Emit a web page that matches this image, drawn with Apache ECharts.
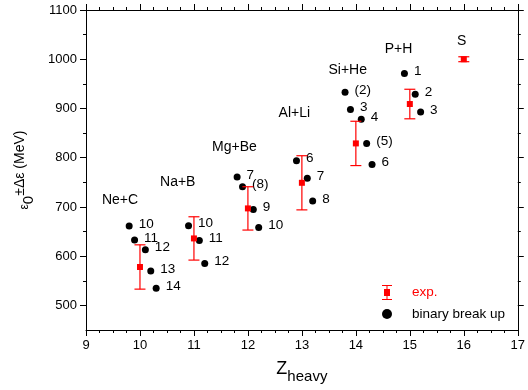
<!DOCTYPE html>
<html>
<head>
<meta charset="utf-8">
<script src="https://cdn.jsdelivr.net/npm/echarts@6/dist/echarts.min.js"></script>
<style>html,body{margin:0;padding:0;background:#fff;}#c{width:528px;height:390px;}</style>
</head>
<body>
<div id="c"></div>
<script>
// experimental points
const expZ = [10, 11, 12, 13, 14, 15, 16];
const expE = [578, 636, 697, 749, 829, 909, 1000];
const expErr = [45, 44, 44, 55, 45, 30, 5];

// binary break up points
const bbZ = [9.8, 9.9, 10.1, 10.2, 10.3,
             10.9, 11.1, 11.2,
             11.8, 11.9, 12.1, 12.2,
             12.9, 13.1, 13.2,
             13.8, 13.9, 14.1, 14.2, 14.3,
             14.9, 15.1, 15.2];
const bbE = [661, 633, 613, 570, 535,
             662, 632, 585,
             761, 741, 695, 658,
             794, 758, 712,
             933, 898, 878, 829, 786,
             971, 929, 893];
const bbLabel = ['10', '11', '12', '13', '14',
                 '10', '11', '12',
                 '7', '(8)', '9', '10',
                 '6', '7', '8',
                 '(2)', '3', '4', '(5)', '6',
                 '1', '2', '3'];

// group annotations
const groupNames = ['Ne+C', 'Na+B', 'Mg+Be', 'Al+Li', 'Si+He', 'P+H', 'S'];
const groupZ = [9.63, 10.70, 11.75, 12.86, 13.85, 14.79, 15.96];
const groupE = [714, 751, 821, 890, 977, 1020, 1036];

// tick values
const yMajor = [500, 600, 700, 800, 900, 1000, 1100];
const yMinor = [550, 650, 750, 850, 950, 1050];

const FONT = '"Liberation Sans", Arial, Helvetica, sans-serif';
const RED = '#ff0000';

const chart = echarts.init(document.getElementById('c'));

const baseY = {
  type: 'value', min: 450, max: 1100, splitLine: {show: false}
};
const baseX = {
  type: 'value', min: 9, max: 17, interval: 1, splitLine: {show: false},
  axisLine: {show: true, lineStyle: {color: '#000', width: 1}},
  axisTick: {show: true, inside: false, length: 6, lineStyle: {color: '#000'}},
  minorTick: {show: true, splitNumber: 4, length: 3, lineStyle: {color: '#000'}},
  minorSplitLine: {show: false}
};

const option = {
  animation: false,
  backgroundColor: '#fff',
  textStyle: {fontFamily: FONT},
  grid: {left: 86, right: 9, top: 10, bottom: 60, containLabel: false},
  xAxis: [
    Object.assign({}, baseX, {
      position: 'bottom',
      axisLabel: {show: true, color: '#000', fontSize: 13, fontFamily: FONT, margin: 9},
      name: '{z|Z}{h|heavy}',
      nameLocation: 'middle',
      nameGap: 25,
      nameTextStyle: {
        rich: {
          z: {fontSize: 18, color: '#000', fontFamily: FONT},
          h: {fontSize: 15, color: '#000', fontFamily: FONT, padding: [14, 0, 0, 0]}
        }
      }
    }),
    Object.assign({}, baseX, {
      position: 'top',
      axisLabel: {show: false}
    })
  ],
  yAxis: [
    Object.assign({}, baseY, {
      position: 'left',
      axisLine: {show: true, lineStyle: {color: '#000', width: 1}},
      axisTick: {show: true, inside: false, length: 6, customValues: yMajor, lineStyle: {color: '#000'}},
      axisLabel: {show: true, customValues: yMajor, color: '#000', fontSize: 13, fontFamily: FONT, margin: 9,
                  formatter: function (v) { return String(v); }},
      name: '{e|ε}{z|0}{s|±Δε} (MeV)',
      nameLocation: 'middle',
      nameRotate: 90,
      nameGap: 50,
      nameTextStyle: {
        fontSize: 14, color: '#000', fontFamily: FONT,
        rich: {
          e: {fontSize: 12, color: '#000', fontFamily: FONT, padding: [8, 0, 0, 0]},
          z: {fontSize: 15, color: '#000', fontFamily: FONT, padding: [16, 0, 0, 0]},
          s: {fontSize: 14, color: '#000', fontFamily: FONT}
        }
      }
    }),
    Object.assign({}, baseY, {
      position: 'left',
      axisLine: {show: false},
      axisTick: {show: true, inside: false, length: 3, customValues: yMinor, lineStyle: {color: '#000'}},
      axisLabel: {show: false}
    }),
    Object.assign({}, baseY, {
      position: 'right',
      axisLine: {show: true, lineStyle: {color: '#000', width: 1}},
      axisTick: {show: true, inside: false, length: 6, customValues: yMajor, lineStyle: {color: '#000'}},
      axisLabel: {show: false}
    }),
    Object.assign({}, baseY, {
      position: 'right',
      axisLine: {show: false},
      axisTick: {show: true, inside: false, length: 3, customValues: yMinor, lineStyle: {color: '#000'}},
      axisLabel: {show: false}
    })
  ],
  legend: [
    {
      left: 377, top: 280, orient: 'vertical', selectedMode: false,
      itemWidth: 40, itemHeight: 15, itemGap: 5,
      textStyle: {fontSize: 13.5, fontFamily: FONT, color: RED},
      data: [{
        name: 'exp.',
        icon: 'path://M0,0 L10,0 L10,1 L5.5,1 L5.5,4 L8,4 L8,11 L5.5,11 L5.5,14 L10,14 L10,15 L0,15 L0,14 L4.5,14 L4.5,11 L2,11 L2,4 L4.5,4 L4.5,1 L0,1 Z',
        itemStyle: {color: RED, opacity: 1},
        textStyle: {color: RED}
      }]
    },
    {
      left: 377, top: 302, orient: 'vertical', selectedMode: false,
      itemWidth: 40, itemHeight: 10,
      textStyle: {fontSize: 13.5, fontFamily: FONT, color: '#000'},
      data: [{name: 'binary break up', icon: 'circle', itemStyle: {color: '#000', opacity: 1}}]
    }
  ],
  series: [
    {
      name: 'binary break up',
      type: 'scatter',
      xAxisIndex: 0, yAxisIndex: 0,
      symbol: 'circle',
      symbolSize: 7,
      itemStyle: {color: '#000', opacity: 1},
      emphasis: {disabled: true},
      data: bbZ.map((z, i) => ({value: [z, bbE[i]], label: {formatter: bbLabel[i]}})),
      label: {
        show: true, position: 'right', distance: 6, offset: [0, -2],
        color: '#000', fontSize: 13.5, fontFamily: FONT, opacity: 1
      },
      z: 3
    },
    {
      name: 'exp.',
      type: 'custom',
      xAxisIndex: 0, yAxisIndex: 0,
      itemStyle: {color: RED},
      data: expZ.map((z, i) => [z, expE[i], expErr[i]]),
      renderItem: function (params, api) {
        const x = api.value(0), y = api.value(1), e = api.value(2);
        const c = api.coord([x, y]);
        const t = api.coord([x, y + e]);
        const b = api.coord([x, y - e]);
        const hw = 5.5, s = 6;
        const ls = {stroke: RED, lineWidth: 1.2};
        return {
          type: 'group',
          children: [
            {type: 'line', shape: {x1: c[0], y1: t[1], x2: c[0], y2: b[1]}, style: ls},
            {type: 'line', shape: {x1: c[0] - hw, y1: t[1], x2: c[0] + hw, y2: t[1]}, style: ls},
            {type: 'line', shape: {x1: c[0] - hw, y1: b[1], x2: c[0] + hw, y2: b[1]}, style: ls},
            {type: 'rect', shape: {x: c[0] - s / 2, y: c[1] - s / 2, width: s, height: s}, style: {fill: RED}}
          ]
        };
      },
      z: 4
    },
    {
      name: 'groups',
      type: 'custom',
      xAxisIndex: 0, yAxisIndex: 0,
      silent: true,
      data: groupNames.map((n, i) => [groupZ[i], groupE[i], i]),
      renderItem: function (params, api) {
        const i = api.value(2);
        const c = api.coord([api.value(0), api.value(1)]);
        return {
          type: 'text',
          style: {
            text: groupNames[i], x: c[0], y: c[1],
            align: 'center', verticalAlign: 'middle',
            fill: '#000', fontSize: 14, fontFamily: FONT
          }
        };
      },
      z: 2
    }
  ]
};
chart.setOption(option);
</script>
</body>
</html>
